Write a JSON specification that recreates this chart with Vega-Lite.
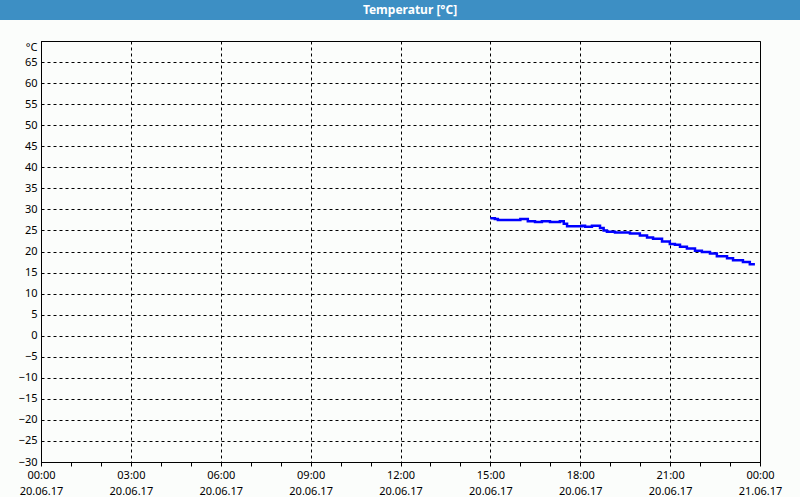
{
  "$schema": "https://vega.github.io/schema/vega-lite/v6.json",
  "background": "#fbfdfb",
  "padding": 0,
  "spacing": 20,
  "config": {"font": "Noto Sans"},
  "datasets": {
    "header": [{"title": "Temperatur [°C]"}],
    "empty": [],
    "temp": [
      {"hour": 15.00, "temp": 27.9},
      {"hour": 15.15, "temp": 27.7},
      {"hour": 15.25, "temp": 27.5},
      {"hour": 16.00, "temp": 27.7},
      {"hour": 16.25, "temp": 27.2},
      {"hour": 16.49, "temp": 27.0},
      {"hour": 16.72, "temp": 27.2},
      {"hour": 16.99, "temp": 27.0},
      {"hour": 17.32, "temp": 27.2},
      {"hour": 17.45, "temp": 26.6},
      {"hour": 17.56, "temp": 26.0},
      {"hour": 18.06, "temp": 26.1},
      {"hour": 18.16, "temp": 25.9},
      {"hour": 18.39, "temp": 26.1},
      {"hour": 18.66, "temp": 25.6},
      {"hour": 18.78, "temp": 25.0},
      {"hour": 18.89, "temp": 24.7},
      {"hour": 19.16, "temp": 24.5},
      {"hour": 19.66, "temp": 24.3},
      {"hour": 19.99, "temp": 23.8},
      {"hour": 20.23, "temp": 23.3},
      {"hour": 20.43, "temp": 23.0},
      {"hour": 20.73, "temp": 22.4},
      {"hour": 20.99, "temp": 21.8},
      {"hour": 21.16, "temp": 21.6},
      {"hour": 21.33, "temp": 21.1},
      {"hour": 21.56, "temp": 20.7},
      {"hour": 21.83, "temp": 20.2},
      {"hour": 22.06, "temp": 19.9},
      {"hour": 22.33, "temp": 19.5},
      {"hour": 22.56, "temp": 18.9},
      {"hour": 22.90, "temp": 18.4},
      {"hour": 23.10, "temp": 17.9},
      {"hour": 23.43, "temp": 17.5},
      {"hour": 23.66, "temp": 17.0},
      {"hour": 23.83, "temp": 17.0}
    ]
  },
  "vconcat": [
    {
      "width": 800,
      "height": 20,
      "view": {"fill": "#3d8fc4", "stroke": null},
      "data": {"name": "header"},
      "mark": {"type": "text", "color": "white", "fontWeight": "bold", "fontSize": 12, "baseline": "middle", "align": "center", "dx": 10, "font": "Noto Sans"},
      "encoding": {"text": {"field": "title", "type": "nominal"}}
    },
    {
      "spacing": 0,
      "hconcat": [
        {
          "width": 1,
          "height": 421,
          "view": {"stroke": null, "fill": null},
          "data": {"name": "empty"},
          "mark": {"type": "point", "opacity": 0},
          "encoding": {}
        },
        {
          "width": 719,
          "height": 421,
          "view": {"fill": "#fbfdfb", "stroke": "black", "strokeWidth": 1},
          "data": {"name": "temp"},
          "mark": {"type": "line", "color": "#0000ff", "strokeWidth": 2.5, "interpolate": "step-after"},
          "encoding": {
            "x": {
              "field": "hour",
              "type": "quantitative",
              "scale": {"domain": [0, 24], "nice": false, "zero": false},
              "axis": {
                "title": null,
                "values": [0,1,2,3,4,5,6,7,8,9,10,11,12,13,14,15,16,17,18,19,20,21,22,23,24],
                "labelExpr": "datum.value % 3 == 0 ? [((datum.value % 24) < 10 ? '0' : '') + (datum.value % 24) + ':00', datum.value == 24 ? '21.06.17' : '20.06.17'] : ''",
                "labelFlush": false,
                "labelOverlap": false,
                "labelFontSize": 11,
                "labelColor": "black",
                "labelLineHeight": 16,
                "labelPadding": 3,
                "labelBaseline": "top",
                "tickSize": 4,
                "tickColor": "black",
                "domainColor": "black",
                "grid": true,
                "gridColor": "black",
                "gridDash": [3, 3],
                "gridOpacity": {"condition": {"test": "datum.value % 3 == 0", "value": 1}, "value": 0}
              }
            },
            "y": {
              "field": "temp",
              "type": "quantitative",
              "scale": {"domain": [-30, 70], "nice": false, "zero": false},
              "axis": {
                "title": null,
                "values": [-30,-25,-20,-15,-10,-5,0,5,10,15,20,25,30,35,40,45,50,55,60,65,70],
                "labelExpr": "datum.value == 70 ? '°C' : datum.label",
                "labelBaseline": {"condition": {"test": "datum.value == 70", "value": "top"}, "value": "middle"},
                "labelFontSize": 11,
                "labelColor": "black",
                "labelPadding": 4,
                "ticks": false,
                "domainColor": "black",
                "minExtent": 39,
                "maxExtent": 39,
                "grid": true,
                "gridColor": "black",
                "gridDash": [3, 3]
              }
            }
          }
        }
      ]
    }
  ]
}
